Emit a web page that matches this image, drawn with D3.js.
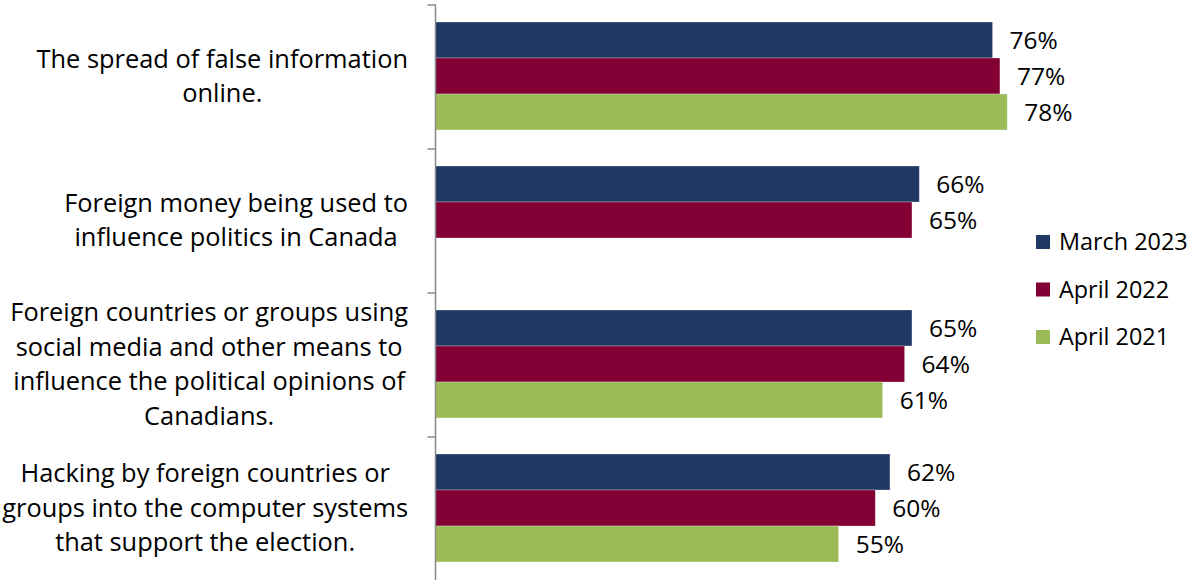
<!DOCTYPE html>
<html><head><meta charset="utf-8">
<script src="https://cdn.jsdelivr.net/npm/d3@7"></script>
<style>body{margin:0;background:#fff}svg{display:block}text{font-family:"Open Sans",sans-serif;fill:#000}</style>
</head><body><svg id="c" width="1188" height="580"></svg>
<script>
const categories = [
  ["The spread of false information", "online."],
  ["Foreign money being used to", "influence politics in Canada"],
  ["Foreign countries or groups using", "social media and other means to", "influence the political opinions of", "Canadians."],
  ["Hacking by foreign countries or", "groups into the computer systems", "that support the election."]
];
const seriesNames = ["March 2023", "April 2022", "April 2021"];
const seriesColors = ["#203864", "#820033", "#9BBB59"];
const march2023 = [76, 66, 65, 62];
const april2022 = [77, 65, 64, 60];
const april2021 = [78, null, 61, 55];
const seriesValues = [march2023, april2022, april2021];

const svg = d3.select("#c");
const axisX = 435.5;
const y0 = d3.scaleBand().domain(d3.range(categories.length)).range([4, 580]).paddingInner(0).paddingOuter(0);
const y1 = d3.scaleBand().domain(d3.range(seriesNames.length)).range([0, 108]);
const x = d3.scaleLinear().domain([0, 100]).range([axisX, axisX + 733]);

const groups = svg.append("g").selectAll("g").data(categories).join("g")
  .attr("transform", (d, i) => `translate(0,${y0(i) + (y0.bandwidth() - 108) / 2})`);

groups.each(function(cat, ci) {
  const g = d3.select(this);
  seriesValues.forEach((vals, si) => {
    const v = vals[ci];
    if (v == null) return;
    g.append("rect").attr("x", x(0)).attr("y", y1(si)).attr("width", x(v) - x(0)).attr("height", y1.bandwidth())
      .attr("fill", seriesColors[si]).attr("stroke", "#ffffff").attr("stroke-opacity", 0.35).attr("stroke-width", 0.8);
    g.append("text").attr("x", x(v) + 17).attr("y", y1(si) + y1.bandwidth() / 2).attr("dy", "0.35em")
      .style("font-size", "24.5px").text(v + "%");
  });
});

// axis
const yAxis = d3.axisLeft(d3.scaleLinear().domain([0, 4]).range([4.5, 580.5])).ticks(4).tickSize(8).tickFormat("");
const ax = svg.append("g").attr("transform", `translate(${axisX},0)`).call(yAxis);
ax.selectAll("path,line").attr("stroke", "#888").attr("stroke-width", 1.5);
ax.select("path").attr("d", "M0,4.5V580.5");

// category labels
const lineH = 34.5;
categories.forEach((lines, ci) => {
  const cy = y0(ci) + y0.bandwidth() / 2;
  const t = svg.append("text").style("font-size", "25.4px").attr("text-anchor", "middle");
  const spans = lines.map((l, li) => t.append("tspan").attr("x", 0).attr("y", cy + (li - (lines.length - 1) / 2) * lineH).attr("dy", "0.35em").text(l));
  const w = d3.max(spans, s => s.node().getComputedTextLength());
  spans.forEach(s => s.attr("x", 408 - w / 2));
});

// legend
const leg = svg.append("g");
seriesNames.forEach((n, i) => {
  const cy = 242 + i * 47.5;
  leg.append("rect").attr("x", 1036).attr("y", cy - 7).attr("width", 14).attr("height", 14).attr("fill", seriesColors[i]);
  leg.append("text").attr("x", 1059).attr("y", cy).attr("dy", "0.35em").style("font-size", "23.4px").text(n);
});
</script></body></html>
